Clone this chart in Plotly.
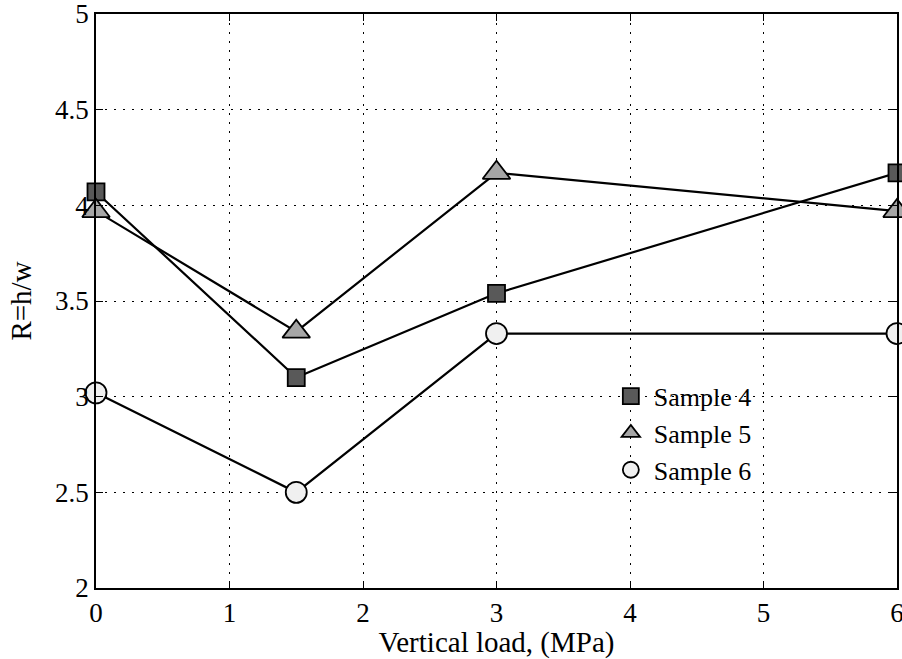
import plotly.graph_objects as go

load = [0, 1.5, 3, 6]
sample4 = [4.07, 3.10, 3.54, 4.17]
sample5 = [3.97, 3.34, 4.17, 3.97]
sample6 = [3.02, 2.50, 3.33, 3.33]
names = ["Sample 4", "Sample 5", "Sample 6"]
x_ticks = [0, 1, 2, 3, 4, 5, 6]
y_ticks = [2, 2.5, 3, 3.5, 4, 4.5, 5]
y_tick_text = ["2", "2.5", "3", "3.5", "4", "4.5", "5"]

FONT = "Liberation Serif"

styles = [
    dict(symbol="square", size=17, color="#595959"),
    dict(symbol="triangle-up", size=24, color="#a6a6a6"),
    dict(symbol="circle", size=21, color="#f0f0f0"),
]

fig = go.Figure()
for name, ys, st in zip(names, [sample4, sample5, sample6], styles):
    fig.add_trace(go.Scatter(
        x=load, y=ys, mode="lines+markers", name=name, showlegend=False,
        cliponaxis=False,
        line=dict(color="black", width=2.2),
        marker=dict(symbol=st["symbol"], size=st["size"], color=st["color"],
                    line=dict(color="black", width=1.8)),
    ))
for name, st in zip(names, styles):
    fig.add_trace(go.Scatter(
        x=[None], y=[None], mode="markers", name=name, showlegend=True,
        marker=dict(symbol=st["symbol"], size=st["size"], color=st["color"],
                    line=dict(color="black", width=1.8)),
    ))

axis_common = dict(
    showline=True, linecolor="black", linewidth=1.5, mirror="ticks",
    ticks="inside", ticklen=7, tickwidth=1, tickcolor="black",
    showgrid=True, gridcolor="black", gridwidth=1, griddash="2px,7px",
    zeroline=False, automargin=False, ticklabeloverflow="allow",
    tickfont=dict(family=FONT, size=27, color="black"),
)

fig.update_xaxes(
    range=[0, 6], tickvals=x_ticks, ticktext=[str(v) for v in x_ticks],
    title=dict(text="Vertical load, (MPa)", font=dict(family=FONT, size=29, color="black"), standoff=0),
    **axis_common,
)
fig.update_yaxes(
    range=[2, 5], tickvals=y_ticks, ticktext=y_tick_text,
    title=dict(text="R=h/w", font=dict(family=FONT, size=29, color="black"), standoff=15),
    **axis_common,
)

fig.update_layout(
    width=902, height=659,
    margin=dict(l=96, r=5, t=14, b=71),
    plot_bgcolor="white", paper_bgcolor="white",
    font=dict(family=FONT, size=26, color="black"),
    legend=dict(x=0.639, y=0.375, xanchor="left", yanchor="top",
                bgcolor="rgba(0,0,0,0)", borderwidth=0,
                font=dict(family=FONT, size=26, color="black"),
                itemsizing="trace", itemwidth=36, tracegroupgap=0),
)

fig.write_html(
    "out.html",
    config={"displayModeBar": False},
    post_script="document.body.style.margin='0';document.body.style.overflow='hidden';",
)
